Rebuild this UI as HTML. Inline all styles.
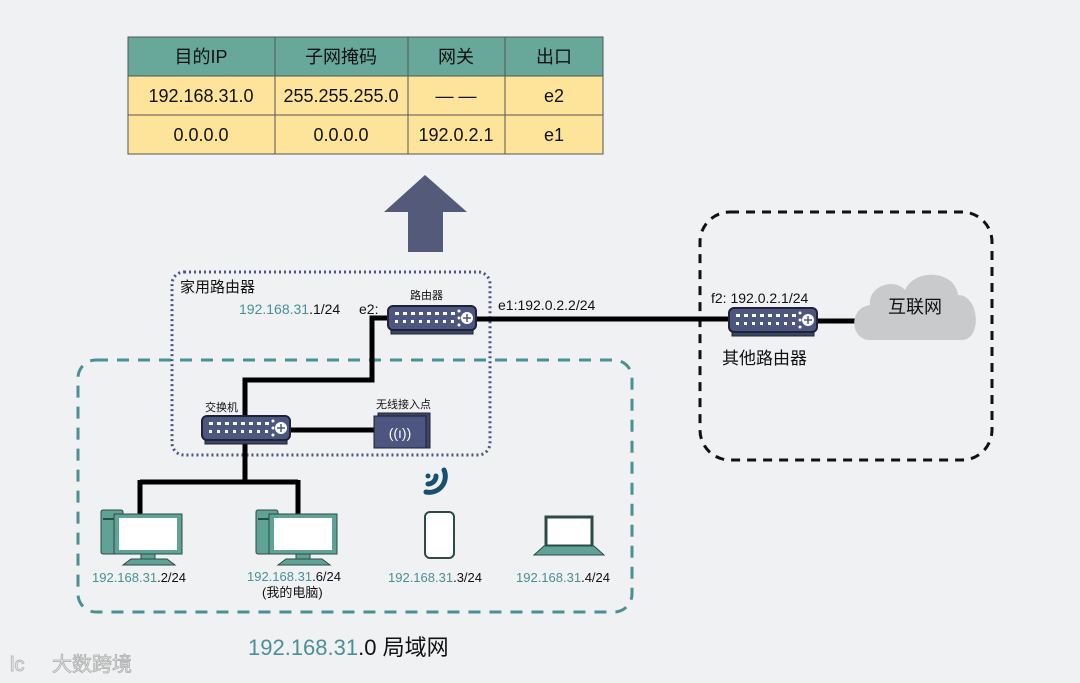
<!DOCTYPE html>
<html><head><meta charset="utf-8"><style>
html,body{margin:0;padding:0;background:#eff1f3;}
svg{display:block;font-family:"Liberation Sans","Noto Sans CJK SC",sans-serif;}
</style></head><body>
<svg width="1080" height="683" viewBox="0 0 1080 683" xmlns="http://www.w3.org/2000/svg">
<defs>
<g id="rt">
 <rect x="3" y="22" width="82" height="6" fill="#3e4666" stroke="#1d2235" stroke-width="1"/>
 <rect x="0" y="0" width="88" height="24" rx="5" fill="#4d5680" stroke="#1d2235" stroke-width="2"/>
 <g fill="#fff">
  <rect x="7" y="6" width="4" height="3"/><rect x="15" y="6" width="4" height="3"/><rect x="23" y="6" width="4" height="3"/><rect x="31" y="6" width="4" height="3"/><rect x="39" y="6" width="4" height="3"/><rect x="47" y="6" width="4" height="3"/><rect x="55" y="6" width="4" height="3"/><rect x="63" y="6" width="4" height="3"/>
  <rect x="7" y="14" width="3" height="3"/><rect x="15" y="14" width="3" height="3"/><rect x="23" y="14" width="3" height="3"/><rect x="31" y="14" width="3" height="3"/><rect x="39" y="14" width="3" height="3"/><rect x="47" y="14" width="3" height="3"/><rect x="55" y="14" width="3" height="3"/><rect x="63" y="14" width="3" height="3"/>
  <circle cx="71" cy="5" r="1.5"/><circle cx="71" cy="12" r="1.5"/><circle cx="71" cy="19" r="1.5"/>
  <circle cx="79" cy="12" r="6"/>
 </g>
 <path d="M79 8v8M75 12h8" stroke="#4d5680" stroke-width="1.5"/>
</g>
<g id="pc">
 <rect x="0" y="0" width="22" height="44" rx="2" fill="#5fa296" stroke="#2e4a45"/>
 <rect x="2" y="8" width="18" height="2" fill="#2e4a45"/>
 <rect x="13" y="4" width="68" height="40" fill="#5fa296" stroke="#2e4a45"/>
 <rect x="18" y="8" width="58" height="32" fill="#fff"/>
 <rect x="40" y="44" width="14" height="6" fill="#5fa296" stroke="#2e4a45"/>
 <path d="M22 55L30 49H66L74 55Z" fill="#5fa296" stroke="#2e4a45"/>
</g>
</defs>

<g font-size="18" text-anchor="middle" fill="#111">
<rect x="128" y="37" width="475" height="39" fill="#67a89a"/>
<rect x="128" y="76" width="475" height="78" fill="#fde49a"/>
<g stroke="#555" stroke-width="1" fill="none">
 <rect x="128" y="37" width="475" height="117"/>
 <line x1="128" y1="76" x2="603" y2="76"/><line x1="128" y1="115" x2="603" y2="115"/>
 <line x1="275" y1="37" x2="275" y2="154"/><line x1="408" y1="37" x2="408" y2="154"/><line x1="505" y1="37" x2="505" y2="154"/>
</g>
<text x="201" y="63">目的IP</text><text x="341" y="63">子网掩码</text><text x="456" y="63">网关</text><text x="554" y="63">出口</text>
<text x="201" y="102">192.168.31.0</text><text x="341" y="102">255.255.255.0</text><text x="456" y="102">— —</text><text x="554" y="102">e2</text>
<text x="201" y="141">0.0.0.0</text><text x="341" y="141">0.0.0.0</text><text x="456" y="141">192.0.2.1</text><text x="554" y="141">e1</text>
</g>

<path d="M425 175L467 212H443V252H408V212H384Z" fill="#545a7a"/>

<rect x="700" y="212" width="292" height="248" rx="30" fill="none" stroke="#111" stroke-width="3" stroke-dasharray="9 7"/>
<rect x="78" y="360" width="554" height="252" rx="18" fill="none" stroke="#4a9094" stroke-width="3" stroke-dasharray="12 9"/>
<rect x="172" y="272" width="318" height="183" rx="12" fill="none" stroke="#4d5680" stroke-width="3" stroke-dasharray="2 3"/>

<g stroke="#000" stroke-width="5" fill="none">
 <path d="M390 318H372V380H245V418"/>
 <path d="M475 319H730"/>
 <path d="M815 321H858"/>
 <path d="M290 430H376"/>
 <path d="M245 442V482M140 482H298M140 480V516M298 480V516"/>
</g>

<path d="M870 340C850 340 848 308 870 305C868 285 895 278 905 290C915 268 955 270 958 295C980 295 982 340 962 340Z" fill="#c9cacc"/>
<text x="915" y="313" font-size="18" text-anchor="middle" fill="#111">互联网</text>

<use href="#rt" x="388" y="306"/>
<use href="#rt" x="202" y="416"/>
<use href="#rt" x="729" y="308"/>
<g>
 <rect x="378" y="413" width="52" height="35" fill="#3e4666" stroke="#1d2235"/>
 <rect x="374" y="416" width="52" height="32" fill="#4d5680" stroke="#1d2235"/>
 <text x="400" y="438" font-size="14" fill="#fff" text-anchor="middle">((ı))</text>
</g>
<g stroke="#1a4f6e" stroke-width="5" fill="none" stroke-linecap="round">
 <circle cx="428" cy="476" r="2.5" fill="#1a4f6e" stroke="none"/>
 <path d="M428 484A8 8 0 0 0 436 476"/>
 <path d="M426 492A16 16 0 0 0 444 470"/>
</g>
<use href="#pc" x="101" y="510"/>
<use href="#pc" x="256" y="510"/>
<rect x="425" y="512" width="29" height="46" rx="5" fill="#fff" stroke="#2e4a45" stroke-width="2"/>
<rect x="546" y="517" width="46" height="29" fill="#fff" stroke="#2e4a45" stroke-width="3"/>
<path d="M534 555L544 546H594L604 555Z" fill="#5fa296" stroke="#2e4a45"/>

<g font-size="14" fill="#111">
<text x="180" y="292" font-size="15">家用路由器</text>
<text x="239" y="314"><tspan fill="#4a9094">192.168.31</tspan>.1/24</text>
<text x="359" y="314">e2:</text>
<text x="410" y="299" font-size="11">路由器</text>
<text x="498" y="310">e1:192.0.2.2/24</text>
<text x="711" y="303">f2: 192.0.2.1/24</text>
<text x="722" y="364" font-size="17">其他路由器</text>
<text x="205" y="411" font-size="11">交换机</text>
<text x="376" y="408" font-size="11">无线接入点</text>
<text x="92" y="582" font-size="13"><tspan fill="#4a9094">192.168.31</tspan>.2/24</text>
<text x="247" y="581" font-size="13"><tspan fill="#4a9094">192.168.31</tspan>.6/24</text>
<text x="262" y="597" font-size="13">(我的电脑)</text>
<text x="388" y="582" font-size="13"><tspan fill="#4a9094">192.168.31</tspan>.3/24</text>
<text x="516" y="582" font-size="13"><tspan fill="#4a9094">192.168.31</tspan>.4/24</text>
<text x="248" y="655" font-size="22"><tspan fill="#4a9094">192.168.31</tspan>.0 局域网</text>
<text x="52" y="671" font-size="20" fill="#e4e4e4" stroke="#aaa" stroke-width="0.7">大数跨境</text>
<text x="10" y="671" font-size="20" fill="none" stroke="#bbb">lc</text>
</g>
</svg>
</body></html>
